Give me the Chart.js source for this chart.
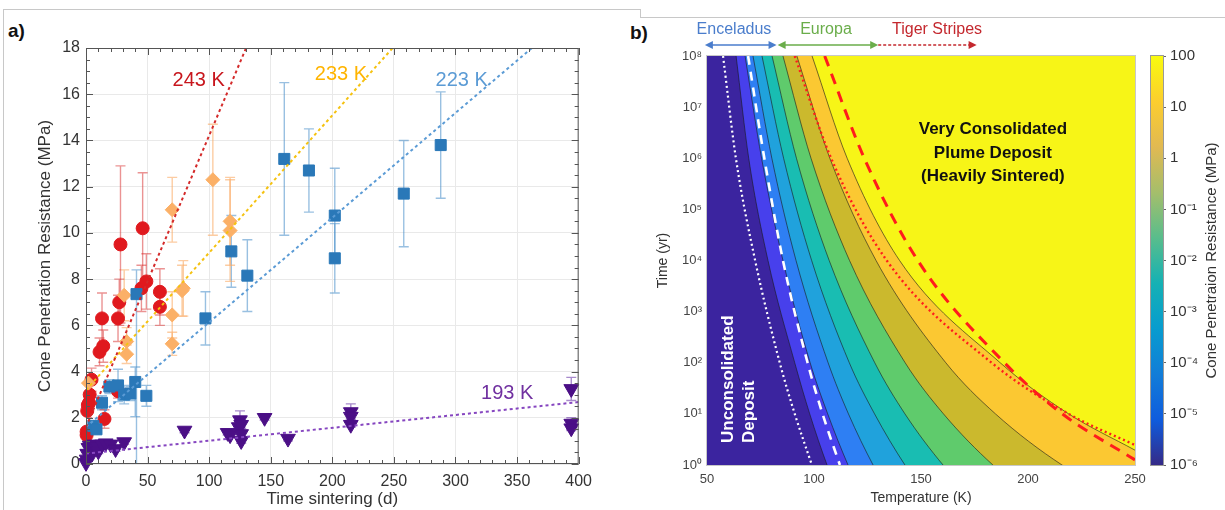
<!DOCTYPE html>
<html>
<head>
<meta charset="utf-8">
<script src="https://cdn.jsdelivr.net/npm/chart.js@4.4.1/dist/chart.umd.min.js"></script>
<style>
  body { margin: 0; background: #fff; }
  #wrap { position: relative; width: 1225px; height: 510px; overflow: hidden;
          font-family: "Liberation Sans", Arial, Helvetica, sans-serif; }
  #wrap canvas { position: absolute; top: 0; }
  .tag { position: absolute; font-weight: bold; font-size: 19px; color: #111; }
</style>
</head>
<body>
<div id="wrap">
  <!-- screenshot frame lines -->
  <div style="position:absolute;left:3px;top:9px;width:637px;height:520px;border-left:1px solid #c8c8c8;border-top:1px solid #c8c8c8"></div>
  <div style="position:absolute;left:640px;top:9px;height:8px;border-left:1px solid #c8c8c8"></div>
  <div style="position:absolute;left:640px;top:17px;width:600px;border-top:1px solid #c8c8c8"></div>
  <div class="tag" style="left:8px;top:20px">a)</div>
  <div class="tag" style="left:630px;top:22px">b)</div>
  <canvas id="chartA" width="600" height="510" style="left:0"></canvas>
  <canvas id="chartB" width="620" height="510" style="left:605px"></canvas>
  <canvas id="colorbar" width="85" height="510" style="left:1140px"></canvas>
</div>
<script>
Chart.defaults.font.family = '"Liberation Sans", Arial, Helvetica, sans-serif';
Chart.defaults.color = '#333';
Chart.defaults.animation = false;

// ---------- panel a : cone penetration resistance vs. sintering time ----------
// 243 K (red circles)
const days243 = [0.5, 0.5, 1, 1.5, 2.5, 3, 4.5, 11, 14, 13, 15, 26, 27, 26, 28, 46, 45, 49, 60, 60];
const mpa243  = [1.25, 1.4, 2.3, 2.55, 2.65, 3.0, 3.65, 4.85, 5.1, 6.3, 1.95, 6.3, 7.0, 3.15, 9.5, 10.2, 7.6, 7.9, 7.45, 6.8];
const err243  = [0.2, 0.3, 0.3, 0.4, 0.4, 0.5, 0.5, 0.6, 0.7, 1.1, 0.4, 1.0, 1.0, 0.3, 3.4, 2.4, 1.0, 1.2, 1.0, 0.8];
// 233 K (orange diamonds)
const days233 = [2, 31, 33, 33, 70, 70, 70, 78, 79, 103, 117, 117];
const mpa233  = [3.5, 7.3, 5.3, 4.75, 11.0, 6.45, 5.2, 7.5, 7.6, 12.3, 10.5, 10.1];
const err233  = [0.3, 1.1, 0.6, 0.4, 1.4, 1.0, 0.5, 1.1, 1.2, 2.4, 1.9, 2.2];
// 223 K (blue squares)
const days223   = [6, 8.5, 13, 19, 26, 31, 36, 40, 41, 49, 97, 118, 131, 161, 181, 202, 202, 258, 288];
const mpa223    = [1.65, 1.5, 2.65, 3.35, 3.4, 3.0, 3.05, 3.55, 7.35, 2.95, 6.3, 9.2, 8.15, 13.2, 12.7, 10.75, 8.9, 11.7, 13.8];
const err223Up  = [0.2, 0.2, 0.3, 0.3, 0.7, 0.4, 0.3, 0.65, 1.05, 0.45, 1.15, 1.55, 1.55, 3.3, 1.8, 2.05, 1.5, 2.3, 2.3];
const err223Dn  = [0.2, 0.2, 0.3, 0.3, 0.7, 0.4, 0.3, 1.5, 7.35, 0.45, 1.15, 1.55, 1.55, 3.3, 1.8, 2.05, 1.5, 2.3, 2.3];
// 193 K (purple triangles)
const days193 = [0, 0.5, 1, 2, 3, 5, 6, 9, 10, 13, 16, 20, 24, 31, 80, 115, 117, 124, 125, 126, 126, 126, 145, 164, 215, 215, 215, 394, 394, 394];
const mpa193  = [0.05, 0.2, 0.45, 0.7, 0.8, 0.45, 0.85, 0.75, 0.55, 0.85, 0.9, 0.85, 0.65, 0.95, 1.45, 1.35, 1.25, 1.6, 1.9, 1.7, 1.0, 1.3, 2.0, 1.1, 2.25, 2.05, 1.7, 3.25, 1.75, 1.55];
const err193  = [0.05, 0.1, 0.1, 0.1, 0.1, 0.1, 0.1, 0.1, 0.1, 0.1, 0.1, 0.1, 0.1, 0.1, 0.1, 0.1, 0.1, 0.15, 0.4, 0.15, 0.1, 0.1, 0.1, 0.1, 0.35, 0.1, 0.1, 0.5, 0.25, 0.1];

// linear fits, two end points each
const fitDays243 = [0, 130],  fitMpa243 = [1.6, 18];
const fitDays233 = [0, 249],  fitMpa233 = [3.2, 18];
const fitDays223 = [0, 362],  fitMpa223 = [1.6, 18];
const fitDays193 = [0, 400],  fitMpa193 = [0.45, 2.68];

const fitLabels     = ['243 K', '233 K', '223 K', '193 K'];
const fitLabelDay   = [91.5, 207, 305, 342];
const fitLabelMpa   = [16.6, 16.85, 16.6, 3.05];
const fitLabelColor = ['#c8161d', '#ffb400', '#5b9bd5', '#7030a0'];

const mk = (xs, ys) => xs.map((v, i) => ({ x: v, y: ys[i] }));

const errorBars = {
  id: 'errorBars',
  beforeDatasetsDraw(chart) {
    const { ctx, chartArea: a, scales: { x, y } } = chart;
    ctx.save();
    ctx.beginPath();
    ctx.rect(a.left, a.top, a.width, a.height);
    ctx.clip();
    chart.data.datasets.forEach(ds => {
      if (!ds.errUp) return;
      ctx.strokeStyle = ds.errColor;
      ctx.lineWidth = 1.4;
      ds.data.forEach((p, i) => {
        const px = x.getPixelForValue(p.x);
        const top = y.getPixelForValue(p.y + ds.errUp[i]);
        const bot = y.getPixelForValue(p.y - ds.errDown[i]);
        ctx.beginPath();
        ctx.moveTo(px, top); ctx.lineTo(px, bot);
        ctx.moveTo(px - 5, top); ctx.lineTo(px + 5, top);
        ctx.moveTo(px - 5, bot); ctx.lineTo(px + 5, bot);
        ctx.stroke();
      });
    });
    ctx.restore();
  }
};

// box with inward ticks on all four sides
const boxTicks = {
  id: 'boxTicks',
  afterDatasetsDraw(chart) {
    const { ctx, chartArea: a, scales: { x, y } } = chart;
    ctx.save();
    ctx.strokeStyle = '#555';
    ctx.lineWidth = 1;
    ctx.strokeRect(a.left + 0.5, a.top + 0.5, a.width - 1, a.height - 1);
    ctx.beginPath();
    for (let v = x.min; v <= x.max; v += 10) {
      const len = v % 50 === 0 ? 7 : 4;
      const px = Math.round(x.getPixelForValue(v)) + 0.5;
      ctx.moveTo(px, a.bottom); ctx.lineTo(px, a.bottom - len);
      ctx.moveTo(px, a.top); ctx.lineTo(px, a.top + len);
    }
    for (let k = 0; k <= 36; k++) {
      const v = y.min + k * 0.5;
      const len = k % 4 === 0 ? 7 : 4;
      const py = Math.round(y.getPixelForValue(v)) + 0.5;
      ctx.moveTo(a.left, py); ctx.lineTo(a.left + len, py);
      ctx.moveTo(a.right, py); ctx.lineTo(a.right - len, py);
    }
    ctx.stroke();
    ctx.restore();
  }
};

const fitText = {
  id: 'fitText',
  afterDatasetsDraw(chart) {
    const { ctx, scales: { x, y } } = chart;
    ctx.save();
    ctx.font = '20px "Liberation Sans", Arial, sans-serif';
    ctx.textAlign = 'center';
    ctx.textBaseline = 'middle';
    fitLabels.forEach((t, i) => {
      ctx.fillStyle = fitLabelColor[i];
      ctx.fillText(t, x.getPixelForValue(fitLabelDay[i]), y.getPixelForValue(fitLabelMpa[i]));
    });
    ctx.restore();
  }
};

const fitLine = (xs, ys, color) => ({
  data: mk(xs, ys), showLine: true, pointRadius: 0, borderColor: color,
  borderWidth: 2, borderDash: [3, 3], order: 0
});

new Chart(document.getElementById('chartA'), {
  type: 'scatter',
  data: {
    datasets: [
      fitLine(fitDays243, fitMpa243, '#d42a2a'),
      fitLine(fitDays233, fitMpa233, '#f5c211'),
      fitLine(fitDays223, fitMpa223, '#5b9bd5'),
      fitLine(fitDays193, fitMpa193, '#8646c0'),
      { data: mk(days193, mpa193), pointStyle: 'triangle', rotation: 180, pointRadius: 8.5,
        backgroundColor: '#4b0f86', borderColor: '#4b0f86', borderWidth: 1, clip: false,
        errUp: err193, errDown: err193, errColor: 'rgba(110,60,170,0.6)', order: 1 },
      { data: mk(days223, mpa223), pointStyle: 'rect', pointRadius: 7.8,
        backgroundColor: '#2a78b8', borderColor: '#2a78b8', borderWidth: 1, clip: false,
        errUp: err223Up, errDown: err223Dn, errColor: 'rgba(70,140,200,0.55)', order: 2 },
      { data: mk(days233, mpa233), pointStyle: 'rectRot', pointRadius: 7,
        backgroundColor: '#fbb067', borderColor: '#fbb067', borderWidth: 1, clip: false,
        errUp: err233, errDown: err233, errColor: 'rgba(250,170,100,0.6)', order: 3 },
      { data: mk(days243, mpa243), pointStyle: 'circle', pointRadius: 6.5,
        backgroundColor: '#e0191e', borderColor: '#e0191e', borderWidth: 1, clip: false,
        errUp: err243, errDown: err243, errColor: 'rgba(215,40,40,0.5)', order: 4 }
    ]
  },
  options: {
    responsive: false,
    devicePixelRatio: 1,
    events: [],
    layout: { padding: { left: 0, right: 20, top: 48, bottom: 0 } },
    plugins: { legend: { display: false }, tooltip: { enabled: false } },
    scales: {
      x: {
        type: 'linear', min: 0, max: 400,
        afterFit: s => { s.height = 46; },
        ticks: { stepSize: 50, padding: 8, font: { size: 16 }, color: '#333' },
        grid: { color: '#e9e9e9', drawTicks: false },
        border: { display: false },
        title: { display: true, text: 'Time sintering (d)', font: { size: 17 }, color: '#333', padding: { top: 0, bottom: 0 } }
      },
      y: {
        type: 'linear', min: 0, max: 18,
        afterFit: s => { s.width = 86; },
        ticks: { stepSize: 2, padding: 6, font: { size: 16 }, color: '#333' },
        grid: { color: '#e9e9e9', drawTicks: false },
        border: { display: false },
        title: { display: true, text: 'Cone Penetration Resistance (MPa)', font: { size: 17 }, color: '#333', padding: { top: 35, bottom: 0 } }
      }
    }
  },
  plugins: [errorBars, boxTicks, fitText]
});

// ---------- panel b : contour map of resistance, temperature vs time ----------
const yearTicks = [1, 1e1, 1e2, 1e3, 1e4, 1e5, 1e6, 1e7, 1e8];
const contourTime = [1e8, 1e6, 1e4, 1e2, 1e1, 1, 0.1];
const contour1T = [63.6, 69.5, 78.5, 91.0, 98.0, 106.1, 115.7];
const contour2T = [67.8, 75.5, 85.5, 98.2, 106.4, 115.9, 127.1];
const contour3T = [71.5, 80.3, 91.6, 106.6, 116.1, 127.6, 141.4];
const contour4T = [75.7, 85.8, 98.9, 116.5, 128.3, 142.5, 160.1];
const contour5T = [80.4, 91.8, 107.1, 128.4, 142.5, 160.3, 183.0];
const contour6T = [85.5, 98.6, 116.6, 142.6, 160.5, 183.6, 214.2];
const contour7T = [92.0, 107.4, 129.0, 161.6, 184.8, 215.9, 259.7];
const contour8T = [99.1, 115.5, 140.0, 187.0, 219.0, 250.0];
const contour8Time = [1e8, 1e6, 1e4, 1e2, 1e1, 1.95];
const bandColors = ['#4740ec', '#2e7ff3', '#20a2dc', '#19bdb2', '#5fcb6c', '#cbb92d', '#fbc832', '#f7f517'];
const lowestBand = '#3b249f';

const curveTime      = [1e8, 1e6, 1e4, 1e2, 1e1, 1];
const whiteDottedT   = [57.5, 63.5, 72.5, 84.0, 91.0, 99.0];
const whiteDashedT   = [69.2, 76.8, 85.5, 97.0, 104.0, 112.1];
const redDottedT     = [91.0, 108.0, 134.0, 183.0, 219.0, 250.0];
const redDottedTime  = [1e8, 1e6, 1e4, 1e2, 1e1, 2.45];
const redDashedT     = [105.0, 123.5, 148.5, 189.0, 216.0, 250.0];
const redDashedTime  = [1e8, 1e6, 1e4, 1e2, 1e1, 1.26];

const regionNames  = ['Enceladus', 'Europa', 'Tiger Stripes'];
const regionFrom   = [49, 83, 130];
const regionTo     = [82.5, 130, 176];
const regionLabelT = [62.6, 105.6, 157.5];
const regionColors = ['#4a7dcc', '#6aad4a', '#c4282e'];

const consolidatedText = ['Very Consolidated', 'Plume Deposit', '(Heavily Sintered)'];
const consolidatedAt = { T: 183.6, time: 3.6e6 };
const unconsolidatedText = ['Unconsolidated', 'Deposit'];
const unconsolidatedT = [59.8, 70.0];
const unconsolidatedTime = 2.7;

const supMap = { '-': '\u207B', '0': '\u2070', '1': '\u00B9', '2': '\u00B2', '3': '\u00B3', '4': '\u2074',
                 '5': '\u2075', '6': '\u2076', '7': '\u2077', '8': '\u2078', '9': '\u2079' };
const toSup = n => String(n).split('').map(c => supMap[c]).join('');
const decade = v => Math.round(Math.log10(v));

function band(temps, times, color, order) {
  const pts = mk(temps, times);
  const last = pts[pts.length - 1];
  if (last.x < 250) pts.push({ x: 270, y: last.y });
  return { data: pts, showLine: true, pointRadius: 0, borderColor: 'rgba(25,25,25,0.75)', borderWidth: 0.8,
           backgroundColor: color, fill: 'end', cubicInterpolationMode: 'monotone', order };
}
function curve(temps, times, color, dash, width) {
  return { data: mk(temps, times), showLine: true, pointRadius: 0, borderColor: color, borderWidth: width,
           borderDash: dash, fill: false, cubicInterpolationMode: 'monotone', order: 0 };
}

const plotBg = {
  id: 'plotBg',
  beforeDatasetsDraw(chart) {
    const { ctx, chartArea: a } = chart;
    ctx.save();
    ctx.fillStyle = lowestBand;
    ctx.fillRect(a.left, a.top, a.width, a.height);
    ctx.restore();
  }
};

const mapText = {
  id: 'mapText',
  afterDatasetsDraw(chart) {
    const { ctx, chartArea: a, scales: { x, y } } = chart;
    ctx.save();
    ctx.strokeStyle = '#c8c8c8';
    ctx.lineWidth = 1;
    ctx.strokeRect(a.left - 0.5, a.top - 0.5, a.width + 1, a.height + 1);

    ctx.fillStyle = '#111';
    ctx.font = 'bold 17px "Liberation Sans", Arial, sans-serif';
    ctx.textAlign = 'center';
    ctx.textBaseline = 'middle';
    const cx = x.getPixelForValue(consolidatedAt.T);
    const cy = y.getPixelForValue(consolidatedAt.time);
    consolidatedText.forEach((t, i) => ctx.fillText(t, cx, cy + i * 23.5));

    ctx.fillStyle = '#fff';
    ctx.textAlign = 'left';
    const uy = y.getPixelForValue(unconsolidatedTime);
    unconsolidatedText.forEach((t, i) => {
      ctx.save();
      ctx.translate(x.getPixelForValue(unconsolidatedT[i]), uy);
      ctx.rotate(-Math.PI / 2);
      ctx.fillText(t, 0, 0);
      ctx.restore();
    });
    ctx.restore();
  },
  afterDraw(chart) {
    const { ctx, scales: { x } } = chart;
    const textY = 30, arrowY = 45;
    ctx.save();
    ctx.font = '16px "Liberation Sans", Arial, sans-serif';
    ctx.textAlign = 'center';
    ctx.textBaseline = 'middle';
    const head = (px, dir) => {
      ctx.beginPath();
      ctx.moveTo(px, arrowY);
      ctx.lineTo(px - dir * 8, arrowY - 4);
      ctx.lineTo(px - dir * 8, arrowY + 4);
      ctx.closePath();
      ctx.fill();
    };
    regionNames.forEach((name, i) => {
      const x0 = x.getPixelForValue(regionFrom[i]);
      const x1 = x.getPixelForValue(regionTo[i]);
      ctx.fillStyle = regionColors[i];
      ctx.strokeStyle = regionColors[i];
      ctx.fillText(name, x.getPixelForValue(regionLabelT[i]), textY);
      ctx.lineWidth = 1.5;
      const dotted = i === 2;
      ctx.setLineDash(dotted ? [3, 2] : []);
      ctx.beginPath();
      ctx.moveTo(dotted ? x0 : x0 + 6, arrowY);
      ctx.lineTo(x1 - 6, arrowY);
      ctx.stroke();
      ctx.setLineDash([]);
      if (!dotted) head(x0, -1);
      head(x1, 1);
    });
    ctx.restore();
  }
};

new Chart(document.getElementById('chartB'), {
  type: 'scatter',
  data: {
    datasets: [
      curve(whiteDottedT, curveTime, '#ffffff', [2, 3], 2.2),
      curve(whiteDashedT, curveTime, '#ffffff', [9, 7], 2.6),
      curve(redDottedT, redDottedTime, '#ff1c1c', [2, 3], 2.4),
      curve(redDashedT, redDashedTime, '#ff1c1c', [11, 8], 3),
      band(contour8T, contour8Time, bandColors[7], 11),
      band(contour7T, contourTime, bandColors[6], 12),
      band(contour6T, contourTime, bandColors[5], 13),
      band(contour5T, contourTime, bandColors[4], 14),
      band(contour4T, contourTime, bandColors[3], 15),
      band(contour3T, contourTime, bandColors[2], 16),
      band(contour2T, contourTime, bandColors[1], 17),
      band(contour1T, contourTime, bandColors[0], 18)
    ]
  },
  options: {
    responsive: false,
    devicePixelRatio: 1,
    events: [],
    layout: { padding: { left: 0, right: 90, top: 56, bottom: 0 } },
    plugins: { legend: { display: false }, tooltip: { enabled: false } },
    scales: {
      x: {
        type: 'linear', min: 50, max: 250,
        afterFit: s => { s.height = 45; },
        ticks: { stepSize: 50, padding: 7, font: { size: 13 }, color: '#444' },
        grid: { display: false, drawTicks: false }, border: { display: false },
        title: { display: true, text: 'Temperature (K)', font: { size: 14 }, color: '#333', padding: { top: 0, bottom: 3 } }
      },
      y: {
        type: 'logarithmic', min: 1, max: 1e8,
        afterFit: s => { s.width = 102; },
        afterBuildTicks: s => { s.ticks = yearTicks.map(v => ({ value: v })); },
        ticks: { padding: 5, font: { size: 13 }, color: '#444', callback: v => '10' + toSup(decade(v)) },
        grid: { display: false, drawTicks: false }, border: { display: false },
        title: { display: true, text: 'Time (yr)', font: { size: 14 }, color: '#333', padding: { top: 50, bottom: 0 } }
      }
    }
  },
  plugins: [plotBg, mapText]
});

// ---------- colour bar ----------
const colorTicks = [1e-6, 1e-5, 1e-4, 1e-3, 1e-2, 1e-1, 1, 10, 100];
const parulaStops = ['#352a87', '#0f5cdd', '#127dd8', '#079ccf', '#15b1b4', '#59bd8c', '#a5be6b', '#e1b952', '#fcce2e', '#f9fb0e'];

const cbFrame = {
  id: 'cbFrame',
  afterDatasetsDraw(chart) {
    const { ctx, chartArea: a } = chart;
    ctx.save();
    ctx.strokeStyle = '#9a9a9a';
    ctx.lineWidth = 1;
    ctx.strokeRect(a.left - 0.5, a.top - 0.5, a.width + 1, a.height + 1);
    ctx.fillStyle = '#333';
    ctx.font = '15px "Liberation Sans", Arial, sans-serif';
    ctx.textAlign = 'center';
    ctx.textBaseline = 'middle';
    ctx.translate(72, (a.top + a.bottom) / 2);
    ctx.rotate(-Math.PI / 2);
    ctx.fillText('Cone Penetraion Resistance (MPa)', 0, 0);
    ctx.restore();
  }
};

new Chart(document.getElementById('colorbar'), {
  type: 'bar',
  data: {
    labels: [''],
    datasets: [{
      data: [[1e-6, 100]],
      barPercentage: 1, categoryPercentage: 1, borderWidth: 0,
      backgroundColor: c => {
        const a = c.chart.chartArea;
        if (!a) return '#888';
        const g = c.chart.ctx.createLinearGradient(0, a.bottom, 0, a.top);
        parulaStops.forEach((col, i) => g.addColorStop(i / (parulaStops.length - 1), col));
        return g;
      }
    }]
  },
  options: {
    responsive: false,
    devicePixelRatio: 1,
    events: [],
    layout: { padding: { left: 11, right: 0, top: 56, bottom: 45 } },
    plugins: { legend: { display: false }, tooltip: { enabled: false } },
    scales: {
      x: { display: false },
      y: {
        type: 'logarithmic', position: 'right', min: 1e-6, max: 100,
        afterFit: s => { s.width = 62; },
        afterBuildTicks: s => { s.ticks = colorTicks.map(v => ({ value: v })); },
        ticks: { padding: 4, font: { size: 15 }, color: '#333',
                 callback: v => v >= 1 ? String(Math.round(v)) : '10' + toSup(decade(v)) },
        grid: { drawOnChartArea: false, tickLength: 3, color: '#666' },
        border: { display: false }
      }
    }
  },
  plugins: [cbFrame]
});
</script>
</body>
</html>
